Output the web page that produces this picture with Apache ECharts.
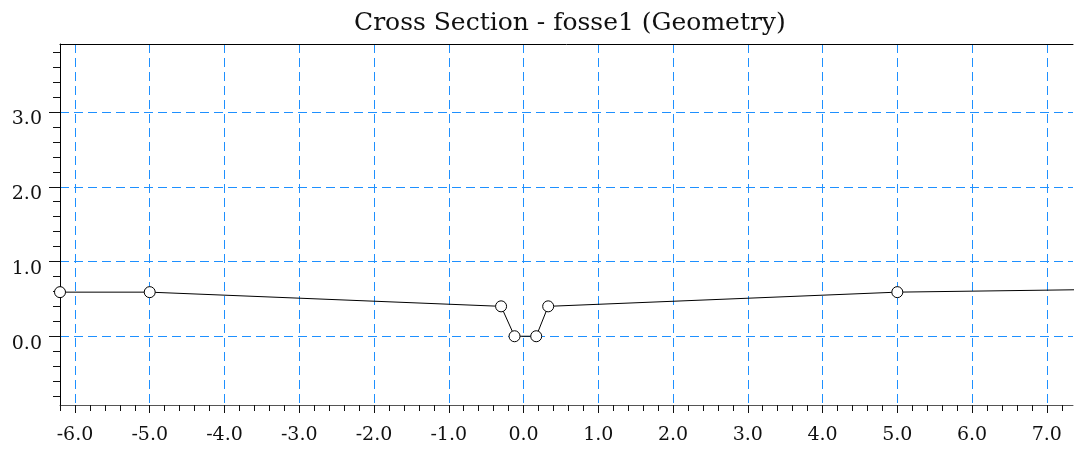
<!DOCTYPE html>
<html>
<head>
<meta charset="utf-8">
<script src="https://cdn.jsdelivr.net/npm/echarts@6/dist/echarts.min.js"></script>
<style>
html,body{margin:0;padding:0;background:#fff;}
#chart{width:1074px;height:449px;}
</style>
</head>
<body>
<div id="chart"></div>
<script>
// ---- data ----
var titleText = 'Cross Section - fosse1 (Geometry)';
var stationX = [-6.2, -5.0, -0.3, -0.12, 0.17, 0.33, 5.0, 8.0];
var elevationY = [0.59, 0.59, 0.40, 0.0, 0.0, 0.40, 0.59, 0.63];
var xMajorTicks = [-6, -5, -4, -3, -2, -1, 0, 1, 2, 3, 4, 5, 6, 7];
var yMajorTicks = [0, 1, 2, 3];
var xRange = [-6.2, 7.35];
var yRange = [-0.92, 3.91];
var minorStep = 0.2;

function minorTicks(range, step) {
  var out = [];
  var start = Math.ceil(range[0] / step - 1e-9);
  var end = Math.floor(range[1] / step + 1e-9);
  for (var i = start; i <= end; i++) out.push(Math.round(i * step * 1000) / 1000);
  return out;
}
var xMinorTicks = minorTicks(xRange, minorStep);
var yMinorTicks = minorTicks(yRange, minorStep);

var FONT = '"DejaVu Serif", "Liberation Serif", serif';
var TITLE_SIZE = 25;
var LABEL_SIZE = 19;
var gridColor = '#1E90FF';
var dash = [9, 5];

// centre the title over the plot area (left 60 .. right 1073)
var plotLeft = 60, plotRight = 1073;
var mctx = document.createElement('canvas').getContext('2d');
mctx.font = TITLE_SIZE + 'px ' + FONT;
var titleW = mctx.measureText(titleText).width;
var titleLeft = Math.round((plotLeft + plotRight) / 2 - titleW / 2) + 3;

var chart = echarts.init(document.getElementById('chart'), null, {renderer: 'canvas'});
var fmt = function (v) { return Number(v).toFixed(1); };

var option = {
  animation: false,
  backgroundColor: '#fff',
  title: {
    text: titleText,
    left: titleLeft,
    top: 11,
    padding: 0,
    textAlign: 'left',
    textStyle: {fontFamily: FONT, fontSize: TITLE_SIZE, fontWeight: 'normal', color: '#111'}
  },
  grid: {left: plotLeft, right: 1074 - plotRight, top: 44, bottom: 44, containLabel: false, outerBoundsMode: 'none'},
  xAxis: [
    {
      type: 'value', min: xRange[0], max: xRange[1], position: 'bottom',
      axisLine: {show: true, onZero: false, lineStyle: {color: '#555', width: 1}},
      axisTick: {show: true, customValues: xMajorTicks, length: 8, lineStyle: {color: '#111'}},
      axisLabel: {show: true, customValues: xMajorTicks, formatter: fmt, margin: 21,
        fontFamily: FONT, fontSize: LABEL_SIZE, color: '#111'},
      splitLine: {show: true, lineStyle: {color: gridColor, type: dash, width: 1}}
    },
    {
      type: 'value', min: xRange[0], max: xRange[1], position: 'bottom',
      axisLine: {show: false, onZero: false},
      axisTick: {show: true, customValues: xMinorTicks, length: 6, lineStyle: {color: '#111'}},
      axisLabel: {show: false},
      splitLine: {show: false}
    },
    {
      type: 'value', min: xRange[0], max: xRange[1], position: 'top',
      axisLine: {show: true, onZero: false, lineStyle: {color: '#000', width: 1}},
      axisTick: {show: false}, axisLabel: {show: false}, splitLine: {show: false}
    }
  ],
  yAxis: [
    {
      type: 'value', min: yRange[0], max: yRange[1], position: 'left',
      axisLine: {show: true, onZero: false, lineStyle: {color: '#000', width: 1}},
      axisTick: {show: true, customValues: yMajorTicks, length: 11, lineStyle: {color: '#111'}},
      axisLabel: {show: true, customValues: yMajorTicks, formatter: fmt, margin: 18,
        verticalAlign: 'top', lineHeight: 15,
        fontFamily: FONT, fontSize: LABEL_SIZE, color: '#111'},
      splitLine: {show: true, lineStyle: {color: gridColor, type: dash, width: 1}}
    },
    {
      type: 'value', min: yRange[0], max: yRange[1], position: 'left',
      axisLine: {show: false, onZero: false},
      axisTick: {show: true, customValues: yMinorTicks, length: 7, lineStyle: {color: '#111'}},
      axisLabel: {show: false},
      splitLine: {show: false}
    }
  ],
  series: [{
    type: 'line',
    xAxisIndex: 0, yAxisIndex: 0,
    data: stationX.map(function (x, i) { return [x, elevationY[i]]; }),
    clip: true,
    symbol: 'circle',
    symbolSize: 11,
    showAllSymbol: true,
    lineStyle: {color: '#000', width: 1},
    itemStyle: {color: '#fff', borderColor: '#000', borderWidth: 1}
  }]
};
chart.setOption(option);
</script>
</body>
</html>
